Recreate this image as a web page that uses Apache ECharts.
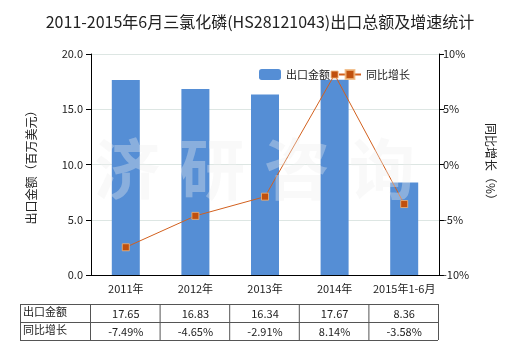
<!DOCTYPE html>
<html><head><meta charset="utf-8">
<script src="https://cdn.jsdelivr.net/npm/echarts@6/dist/echarts.min.js"></script>
<style>html,body{margin:0;padding:0;background:#fff}#c{width:520px;height:350px}</style>
</head><body><div id="c"></div>
<script>
var categories = ['2011年','2012年','2013年','2014年','2015年1-6月'];
var exportValues = [17.65, 16.83, 16.34, 17.67, 8.36];
var growthValues = [-7.49, -4.65, -2.91, 8.14, -3.58];
var exportLabels = ['17.65','16.83','16.34','17.67','8.36'];
var growthLabels = ['-7.49%','-4.65%','-2.91%','8.14%','-3.58%'];
var rowNames = ['出口金额','同比增长'];
var leftTicks = {min:0, max:20, interval:5};
var rightTicks = {min:-10, max:10, interval:5};

var FONT = '"Noto Sans CJK SC", "Noto Sans", sans-serif';
var chart = echarts.init(document.getElementById('c'));
var G = {left:91, right:81, top:54, bottom:75};
chart.setOption({
  animation:false,
  textStyle:{fontFamily:FONT},
  title:{text:'2011-2015年6月三氯化磷(HS28121043)出口总额及增速统计', left:'center', top:9,
    textStyle:{fontSize:16, fontWeight:'normal', color:'#222', fontFamily:FONT}},
  legend:{top:64, left:254, itemGap:8, itemWidth:22, itemHeight:11,
    textStyle:{fontSize:11, color:'#222'},
    data:[{name:'出口金额'},{name:'同比增长'}]},
  grid:G,
  xAxis:{type:'category', data:categories,
    axisLine:{lineStyle:{color:'#000'}},
    axisTick:{alignWithLabel:true, length:4, lineStyle:{color:'#000'}},
    axisLabel:{color:'#222', fontSize:11, margin:8, interval:0}},
  yAxis:[
    {type:'value', min:leftTicks.min, max:leftTicks.max, interval:leftTicks.interval,
     name:'出口金额（百万美元）', nameLocation:'middle', nameGap:54, nameRotate:90,
     nameTextStyle:{fontSize:12, color:'#222'},
     axisLine:{show:true, lineStyle:{color:'#000'}},
     axisTick:{show:true, length:5, lineStyle:{color:'#000'}},
     axisLabel:{color:'#222', fontSize:11, formatter:function(v){return v.toFixed(1);}},
     splitLine:{lineStyle:{color:'#dde6e3'}}},
    {type:'value', min:rightTicks.min, max:rightTicks.max, interval:rightTicks.interval,
     name:'同比增长（%）', nameLocation:'middle', nameGap:46, nameRotate:-90,
     nameTextStyle:{fontSize:12, color:'#222'},
     axisLine:{show:true, lineStyle:{color:'#000'}},
     axisTick:{show:true, length:5, lineStyle:{color:'#000'}},
     axisLabel:{color:'#222', fontSize:11, margin:4, formatter:function(v){return v+'%';}},
     splitLine:{show:false}}
  ],
  series:[
    {name:'出口金额', type:'bar', data:exportValues, barWidth:28, yAxisIndex:0,
     itemStyle:{color:'#558ed5'}},
    {name:'同比增长', type:'line', data:growthValues, yAxisIndex:1,
     symbol:'rect', symbolSize:7,
     lineStyle:{color:'#d2601e', width:1},
     itemStyle:{color:'#c0500e', borderColor:'rgba(240,180,120,0.8)', borderWidth:1}}
  ]
});

// watermark and table
var gr = [];
var wm = ['济','研','咨','询'];
var wmX = [127, 212, 297, 382];
for (var w=0; w<wm.length; w++) {
  gr.push({type:'text', z:100, left:wmX[w]-33, top:136,
    style:{text:wm[w], font:'bold 66px ' + FONT, fill:'rgba(238,238,238,0.35)'}});
}
var x0 = 20, x1 = 90, yTop = 304, rowH = 18;
var colW = (520 - G.left - G.right) / categories.length;
var right = x1 + colW*categories.length;
var lc = '#555';
function line(xa,ya,xb,yb){gr.push({type:'line', z:50, shape:{x1:xa,y1:ya,x2:xb,y2:yb}, style:{stroke:lc, lineWidth:1}});}
for (var r=0; r<=rowNames.length; r++) line(x0, yTop+r*rowH+0.5, right, yTop+r*rowH+0.5);
line(x0+0.5, yTop, x0+0.5, yTop+rowH*rowNames.length);
for (var c=0; c<=categories.length; c++) line(x1+c*colW+0.5, yTop, x1+c*colW+0.5, yTop+rowH*rowNames.length);
var rows = [exportLabels, growthLabels];
for (var r2=0; r2<rowNames.length; r2++) {
  gr.push({type:'text', z:51, x:x0+3, y:yTop+r2*rowH+rowH/2-1,
    style:{text:rowNames[r2], font:'11px '+FONT, fill:'#222', textVerticalAlign:'middle', textAlign:'left'}});
  for (var k=0; k<categories.length; k++) {
    var cx = chart.convertToPixel({xAxisIndex:0}, k);
    gr.push({type:'text', z:51, x:cx, y:yTop+r2*rowH+rowH/2+1,
      style:{text:rows[r2][k], font:'11px '+FONT, fill:'#222', textAlign:'center', textVerticalAlign:'middle'}});
  }
}
chart.setOption({graphic:gr});
</script></body></html>
